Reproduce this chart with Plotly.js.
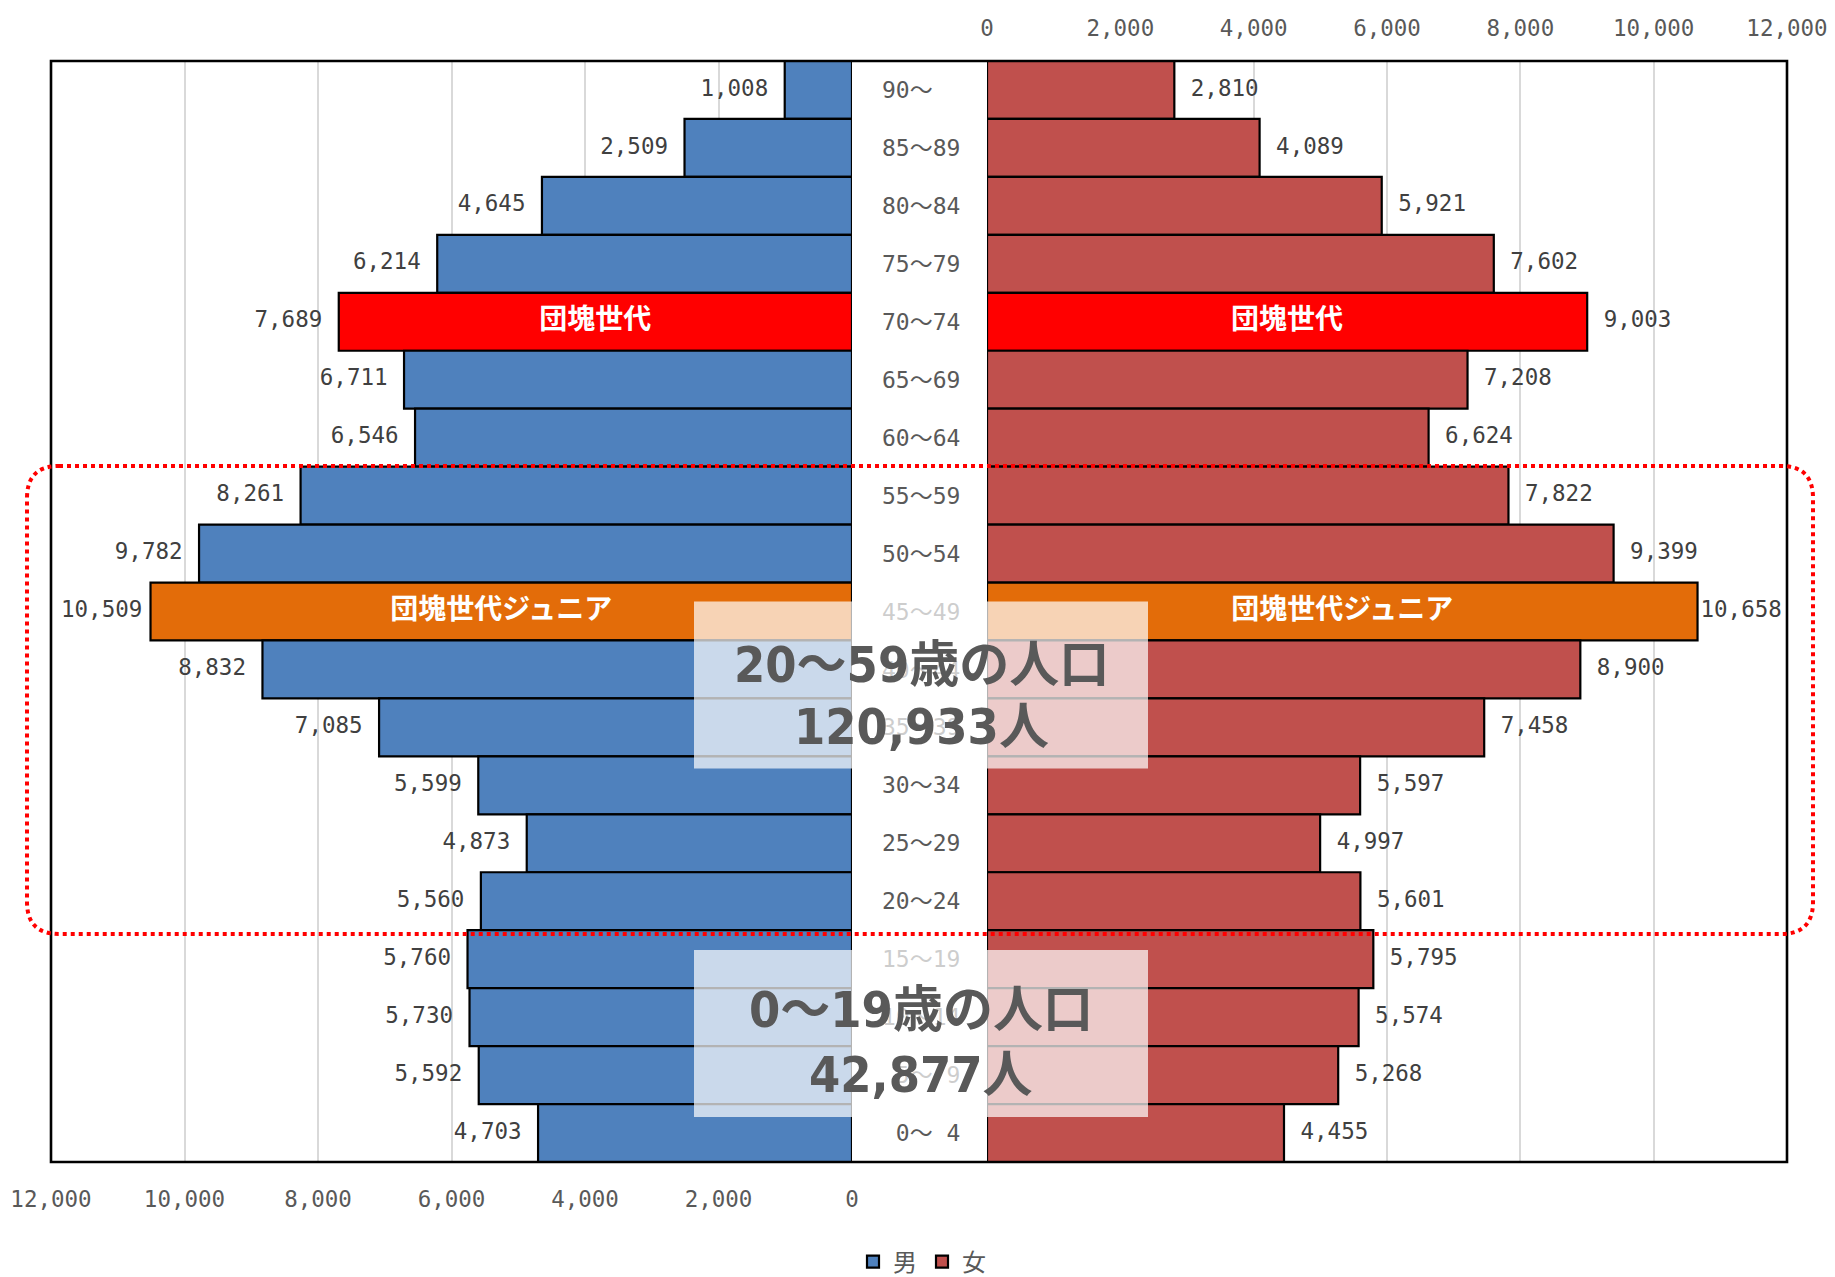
<!DOCTYPE html>
<html><head><meta charset="utf-8">
<script src="https://cdn.plot.ly/plotly-3.0.1.min.js"></script>
<style>html,body{margin:0;padding:0;background:#fff}#chart{width:1835px;height:1277px}</style>
</head><body><div id="chart"></div>
<script>
// ---- data ----
const ageGroups = ['90～','85～89','80～84','75～79','70～74','65～69','60～64','55～59','50～54','45～49','40～44','35～39','30～34','25～29','20～24','15～19','10～14','5～ 9','0～ 4'];
const maleValues   = [1008,2509,4645,6214,7689,6711,6546,8261,9782,10509,8832,7085,5599,4873,5560,5760,5730,5592,4703];
const femaleValues = [2810,4089,5921,7602,9003,7208,6624,7822,9399,10658,8900,7458,5597,4997,5601,5795,5574,5268,4455];
const generationLabels = ['','','','','団塊世代','','','','','団塊世代ジュニア','','','','','','','','',''];
const axisTicks = [0,2000,4000,6000,8000,10000,12000];
const seriesNames = ['男','女'];
const bandTitles = ['20～59歳の人口','0～19歳の人口'];
const bandMembers = [
  ['20～24','25～29','30～34','35～39','40～44','45～49','50～54','55～59'],
  ['0～ 4','5～ 9','10～14','15～19']
];

// ---- styles ----
const MALE='#4F81BD', FEMALE='#C0504D', DANKAI='#FF0000', JUNIOR='#E36C09';
const MONO='DejaVu Sans Mono, Noto Sans CJK JP, sans-serif';
const CJK='Noto Sans CJK JP, sans-serif';
const BIG='Liberation Sans Narrow, DejaVu Sans Condensed, Noto Sans CJK JP, sans-serif';
const AXMAX = 12000;

const PL=51, PR=1787, PT=61, PB=1162;
const px = x => (x-PL)/(PR-PL);
const py = y => (PB-y)/(PB-PT);
const HALF_W = 852-PL; // pixel width of each half-axis

function barColors(base){
  return generationLabels.map(g => g==='' ? base : (g.indexOf('ジュニア')>=0 ? JUNIOR : DANKAI));
}
function tickLabel(s){
  const parts = s.split('～');
  return parts[0].trim().padStart(2,'\u00a0') + '～' + (parts[1]||'').trim().padStart(2,'\u00a0');
}
// invisible marker size that sets the gap between bar end and its value label;
// labels that would not fit inside the frame are pulled closer to the bar.
function labelGapSizes(values){
  return values.map(v=>{
    const label = v.toLocaleString('en-US');
    const avail = (AXMAX - v)/AXMAX*HALF_W;
    const w = label.length*13.55;
    const gap = Math.max(3, Math.min(16.5, avail - w - 10));
    return 2*0.8*(gap-1);
  });
}
const genIdx = generationLabels.map((g,i)=>g?i:-1).filter(i=>i>=0);

const traces = [
  {type:'bar', orientation:'h', name:seriesNames[0], x:maleValues, y:ageGroups, xaxis:'x', yaxis:'y',
   marker:{color:barColors(MALE), line:{color:'#000', width:2.2}}, hoverinfo:'skip'},
  {type:'bar', orientation:'h', name:seriesNames[1], x:femaleValues, y:ageGroups, xaxis:'x2', yaxis:'y',
   marker:{color:barColors(FEMALE), line:{color:'#000', width:2.2}}, hoverinfo:'skip'},
  {type:'scatter', mode:'markers+text', x:maleValues, y:ageGroups, xaxis:'x', yaxis:'y',
   marker:{size:labelGapSizes(maleValues), opacity:0}, texttemplate:'%{x:,}', textposition:'middle left',
   textfont:{family:MONO, size:22.5, color:'#404040'}, showlegend:false, hoverinfo:'skip', cliponaxis:false},
  {type:'scatter', mode:'markers+text', x:femaleValues, y:ageGroups, xaxis:'x2', yaxis:'y',
   marker:{size:labelGapSizes(femaleValues), opacity:0}, texttemplate:'%{x:,}', textposition:'middle right',
   textfont:{family:MONO, size:22.5, color:'#404040'}, showlegend:false, hoverinfo:'skip', cliponaxis:false},
  {type:'scatter', mode:'text', x:genIdx.map(i=>maleValues[i]/2), y:genIdx.map(i=>ageGroups[i]),
   text:genIdx.map(i=>generationLabels[i]), xaxis:'x', yaxis:'y', textposition:'middle center',
   textfont:{family:CJK, size:28, color:'#fff', weight:'bold'}, showlegend:false, hoverinfo:'skip', cliponaxis:false},
  {type:'scatter', mode:'text', x:genIdx.map(i=>femaleValues[i]/2), y:genIdx.map(i=>ageGroups[i]),
   text:genIdx.map(i=>generationLabels[i]), xaxis:'x2', yaxis:'y', textposition:'middle center',
   textfont:{family:CJK, size:28, color:'#fff', weight:'bold'}, showlegend:false, hoverinfo:'skip', cliponaxis:false}
];

function bandTotal(members){
  let t=0;
  members.forEach(a=>{const i=ageGroups.indexOf(a); t+=maleValues[i]+femaleValues[i];});
  return t;
}

// rounded dotted rectangle
function roundRect(x0,y0,x1,y1,r){
  const P=(x,y)=>px(x).toFixed(5)+','+py(y).toFixed(5);
  return 'M'+P(x0+r,y0)+' L'+P(x1-r,y0)+' Q'+P(x1,y0)+' '+P(x1,y0+r)+
    ' L'+P(x1,y1-r)+' Q'+P(x1,y1)+' '+P(x1-r,y1)+
    ' L'+P(x0+r,y1)+' Q'+P(x0,y1)+' '+P(x0,y1-r)+
    ' L'+P(x0,y0+r)+' Q'+P(x0,y0)+' '+P(x0+r,y0)+' Z';
}

const boxes = [{x0:694,x1:1148,y0:601.5,y1:768.5,l1:665,l2:727},{x0:694,x1:1148,y0:950,y1:1117,l1:1010,l2:1075}];
const shapes = [
  {type:'rect', xref:'paper', yref:'paper', x0:0, x1:1, y0:0, y1:1, line:{color:'#000', width:2.6}, layer:'above'},
  {type:'path', xref:'paper', yref:'paper', path:roundRect(27,466,1813,934,32), line:{color:'#FF0000', width:4, dash:'dot'}, layer:'above'}
];
const annotations = [];
boxes.forEach((b,k)=>{
  shapes.push({type:'rect', xref:'paper', yref:'paper', x0:px(b.x0), x1:px(b.x1), y0:py(b.y1), y1:py(b.y0),
    fillcolor:'rgba(255,255,255,0.7)', line:{width:0}, layer:'above'});
  const cx = px((b.x0+b.x1)/2);
  annotations.push({xref:'paper', yref:'paper', x:cx, y:py(b.l1), xanchor:'center', yanchor:'middle', showarrow:false,
    text:'<b>'+bandTitles[k]+'</b>', font:{family:BIG, size:50, color:'#595959'}});
  annotations.push({xref:'paper', yref:'paper', x:cx, y:py(b.l2), xanchor:'center', yanchor:'middle', showarrow:false,
    text:'<b>'+bandTotal(bandMembers[k]).toLocaleString('en-US')+'人</b>', font:{family:BIG, size:50, color:'#595959'}});
});

const xCommon = {tickvals:axisTicks, tickformat:',', showgrid:true, gridcolor:'#D9D9D9', gridwidth:2,
  zeroline:false, showline:false, ticks:'outside', tickcolor:'rgba(0,0,0,0)', anchor:'y',
  tickfont:{family:MONO, size:22.5, color:'#595959'}, fixedrange:true};

const layout = {
  width:1835, height:1277,
  margin:{l:PL, r:1835-PR, t:PT, b:1277-PB, pad:0, autoexpand:false},
  paper_bgcolor:'#fff', plot_bgcolor:'#fff',
  font:{family:MONO, size:22.5, color:'#595959'},
  barmode:'overlay', bargap:0,
  xaxis:Object.assign({}, xCommon, {domain:[0, px(852)], range:[AXMAX,0], side:'bottom', ticklen:17}),
  xaxis2:Object.assign({}, xCommon, {domain:[px(987), 1], range:[0,AXMAX], side:'top', ticklen:15}),
  yaxis:{type:'category', categoryorder:'array', categoryarray:ageGroups, range:[ageGroups.length-0.5, -0.5], autorange:false,
    anchor:'x2', side:'left', showgrid:false, zeroline:false, showline:false,
    ticks:'outside', ticklen:21, tickcolor:'rgba(0,0,0,0)',
    tickvals:ageGroups, ticktext:ageGroups.map(tickLabel),
    tickfont:{family:MONO, size:23, color:'#595959'}, fixedrange:true},
  showlegend:true,
  legend:{orientation:'h', xref:'container', yref:'container', x:922/1835, xanchor:'center', y:(1277-1262)/1277, yanchor:'middle',
    font:{family:CJK, size:24, color:'#595959'}, bgcolor:'rgba(0,0,0,0)', itemwidth:30},
  shapes:shapes, annotations:annotations, hovermode:false
};

Plotly.newPlot('chart', traces, layout, {staticPlot:true, displayModeBar:false});
</script></body></html>
